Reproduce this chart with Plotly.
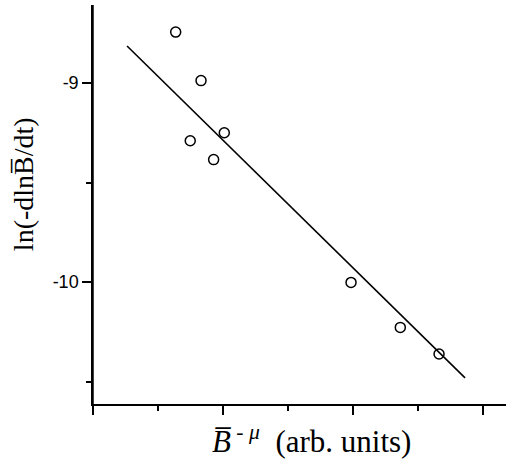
import plotly.graph_objects as go

# data
x_pts = [0.636, 0.831, 1.010, 0.748, 0.928, 1.985, 2.364, 2.662]
y_pts = [-8.744, -8.988, -9.250, -9.290, -9.385, -10.002, -10.228, -10.362]
fit_x = [0.262, 2.862]
fit_y = [-8.814, -10.482]
y_tick_vals = [-9, -10]
y_tick_text = ["-9", "-10"]
x_title = "<i>B\u0305</i><sup> - <i>\u03bc</i></sup>  (arb. units)"
y_title = "ln(-dlnB\u0305/dt)"

fig = go.Figure()
fig.add_trace(go.Scatter(x=fit_x, y=fit_y, mode="lines",
                         line=dict(color="black", width=1.6), showlegend=False))
fig.add_trace(go.Scatter(x=x_pts, y=y_pts, mode="markers",
                         marker=dict(symbol="circle-open", size=10, color="black",
                                     line=dict(width=1.5, color="black")),
                         showlegend=False))

fig.update_layout(
    width=506, height=468,
    margin=dict(l=93, r=0, t=5, b=64),
    plot_bgcolor="white", paper_bgcolor="white",
    font=dict(family="Liberation Sans", color="black"),
    xaxis=dict(range=[0, 3.177], showgrid=False, zeroline=False,
               showline=True, linecolor="black", linewidth=1.5,
               ticks="outside", ticklen=9, tickwidth=1.5, tickcolor="black",
               dtick=1, tick0=0, showticklabels=False,
               minor=dict(ticks="outside", ticklen=5, tickwidth=1.5, tickcolor="black", dtick=0.5)),
    yaxis=dict(range=[-10.613, -8.608], showgrid=False, zeroline=False,
               showline=True, linecolor="black", linewidth=1.5,
               ticks="outside", ticklen=9, tickwidth=1.5, tickcolor="black",
               tickvals=y_tick_vals, ticktext=y_tick_text,
               tickfont=dict(family="Liberation Sans", size=18),
               minor=dict(ticks="outside", ticklen=5, tickwidth=1.5, tickcolor="black",
                          tickvals=[-9.5, -10.5])),
)
fig.add_annotation(text=x_title, xref="paper", yref="paper", x=0.530, y=-0.09,
                   xanchor="center", yanchor="middle", showarrow=False,
                   font=dict(family="Liberation Serif", size=31, color="black"))
fig.add_annotation(text=y_title, xref="paper", yref="paper", x=-0.1695, y=0.551,
                   xanchor="center", yanchor="middle", showarrow=False, textangle=-90,
                   font=dict(family="Liberation Serif", size=28, color="black"))
fig.add_shape(type="line", xref="paper", yref="paper", x0=0, x1=0, y0=-0.015, y1=1,
              line=dict(color="black", width=1.5))

fig.write_html("out.html")
